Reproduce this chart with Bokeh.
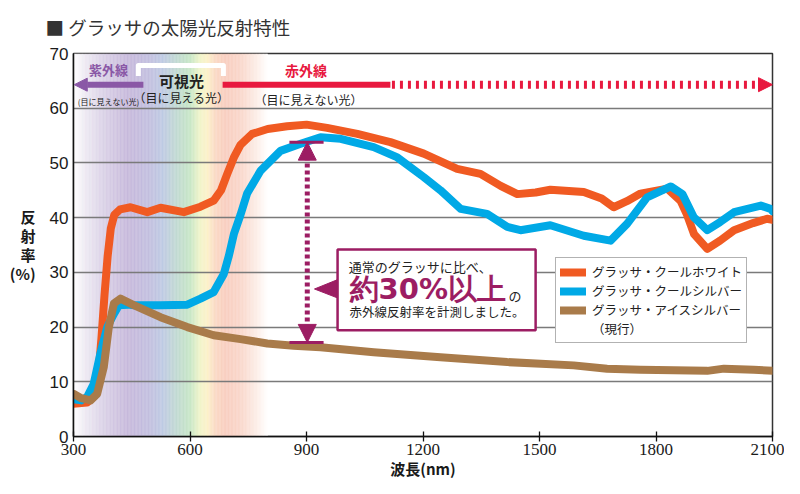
from bokeh.plotting import figure
from bokeh.models import (Label, Arrow, NormalHead, Legend, LegendItem, Range1d,
                          FixedTicker)
from bokeh.embed import file_html
from bokeh.resources import INLINE

# ---------------- data ----------------
wl_white = [300, 335, 355, 365, 372, 380, 388, 396, 405, 420, 447, 490, 524, 584, 627, 661,
            680, 696, 713, 730, 760, 800, 850, 900, 953, 1031, 1116, 1202, 1288, 1348, 1400,
            1443, 1490, 1528, 1614, 1660, 1691, 1725, 1760, 1829, 1863, 1880, 1898, 1932,
            1965, 2001, 2050, 2086, 2100]
cool_white = [6.0, 6.2, 7.5, 12.0, 18.0, 26.0, 33.0, 38.0, 40.5, 41.5, 41.9, 41.0, 41.8, 41.0,
              42.0, 43.1, 45.0, 48.0, 51.0, 53.3, 55.3, 56.2, 56.7, 57.0, 56.4, 55.3, 53.8,
              51.7, 48.9, 48.0, 45.8, 44.3, 44.6, 45.1, 44.7, 43.5, 41.9, 43.0, 44.4, 45.3,
              43.1, 40.5, 37.0, 34.3, 35.8, 37.7, 39.0, 39.8, 39.6]

wl_silver = [300, 320, 335, 352, 369, 387, 404, 417, 440, 455, 524, 593, 627, 661, 687, 700,
             713, 730, 747, 782, 833, 885, 936, 988, 1073, 1134, 1202, 1245, 1297, 1365, 1417,
             1451, 1528, 1614, 1683, 1726, 1777, 1838, 1868, 1897, 1932, 1965, 2001, 2070,
             2095, 2100]
cool_silver = [6.8, 6.6, 7.2, 9.6, 15.1, 20.0, 22.4, 24.0, 24.1, 24.0, 24.0, 24.1, 25.2, 26.4,
               29.7, 33.0, 37.0, 40.5, 44.4, 48.6, 52.2, 53.5, 54.7, 54.4, 52.9, 51.0, 47.4,
               45.0, 41.6, 40.7, 38.3, 37.7, 38.6, 36.7, 35.8, 38.9, 43.7, 45.7, 44.3, 40.1,
               37.7, 39.2, 41.0, 42.2, 41.6, 41.2]

wl_ice = [300, 320, 344, 361, 378, 391, 404, 421, 455, 524, 593, 661, 730, 799, 867, 936, 1073,
          1245, 1417, 1588, 1674, 1760, 1846, 1932, 1975, 2052, 2100]
ice_silver = [7.8, 7.0, 6.6, 7.8, 12.7, 20.0, 24.3, 25.2, 24.0, 21.8, 20.0, 18.5, 17.8, 17.0,
              16.6, 16.3, 15.4, 14.5, 13.6, 13.0, 12.4, 12.2, 12.1, 12.0, 12.4, 12.2, 12.0]

series_names = ["グラッサ・クールホワイト", "グラッサ・クールシルバー", "グラッサ・アイスシルバー"]
legend_extra = "（現行）"
x_ticks = [300, 600, 900, 1200, 1500, 1800, 2100]
y_ticks = [0, 10, 20, 30, 40, 50, 60, 70]

# measured gap (annotation)
gap_x = 902
gap_top = 53.8
gap_bottom = 17.2

# spectrum band colour stops (wavelength, colour)
spec_nm = [300, 330, 380, 440, 490, 530, 570, 600, 625, 645, 665, 690, 730, 770, 800]
spec_col = ["#ffffff", "#ece8f1", "#d6cce4", "#c2b3d8", "#bdb8dc", "#b9c6e0", "#bcd8cc",
            "#c2e4c2", "#eef3c4", "#fcf0c4", "#f9d6c0", "#f8c9b9", "#f9d3c6", "#fcebe4", "#ffffff"]

C_ORANGE = "#f05a22"
C_BLUE = "#00a9e6"
C_BROWN = "#a97b4a"
C_MAG = "#9c1d63"
C_RED = "#e8193f"
C_PURPLE = "#8a58a6"
JP = "Noto Sans CJK JP"

p = figure(frame_width=699, frame_height=383, output_backend="svg", toolbar_location=None,
           x_range=Range1d(300, 2100), y_range=Range1d(0, 70),
           min_border_left=73, min_border_top=53, min_border_right=12, min_border_bottom=40,
           background_fill_color="white", border_fill_color="white")

# title
p.title.text = "■ グラッサの太陽光反射特性"
p.title.text_font = JP
p.title.text_font_style = "normal"
p.title.text_font_size = "18.5px"
p.title.text_color = "#333333"
p.title.align = "left"
p.title.vertical_align = "top"
p.title.offset = -28
p.title.standoff = 23

# ---------- spectrum band ----------
def hex2rgb(h):
    return tuple(int(h[i:i + 2], 16) for i in (1, 3, 5))

lefts, rights, cols = [], [], []
step = 2
w = spec_nm[0]
while w < spec_nm[-1]:
    mid = w + step / 2
    for i in range(len(spec_nm) - 1):
        if spec_nm[i] <= mid <= spec_nm[i + 1]:
            t = (mid - spec_nm[i]) / (spec_nm[i + 1] - spec_nm[i])
            a, b = hex2rgb(spec_col[i]), hex2rgb(spec_col[i + 1])
            c = tuple(round(a[k] + (b[k] - a[k]) * t) for k in range(3))
            break
    lefts.append(w)
    rights.append(w + step + 0.3)
    cols.append("#%02x%02x%02x" % c)
    w += step
band = p.quad(left=lefts, right=rights, bottom=0, top=70, fill_color=cols, line_color=None)
band.level = "image"

# ---------- axes / grid ----------
p.xgrid.visible = False
p.ygrid.grid_line_color = "#7a7a7a"
p.ygrid.grid_line_width = 1.3
p.outline_line_color = "#333333"
p.outline_line_width = 1.5

p.xaxis.ticker = FixedTicker(ticks=x_ticks)
p.yaxis.ticker = FixedTicker(ticks=y_ticks)
p.xaxis.minor_tick_line_color = None
p.yaxis.minor_tick_line_color = None
p.xaxis.major_tick_in = 5
p.xaxis.major_tick_out = 5
p.yaxis.major_tick_in = 0
p.yaxis.major_tick_out = 0
for ax in (p.xaxis, p.yaxis):
    ax.axis_line_color = "#111111"
    ax.axis_line_width = 1.5
    ax.major_tick_line_color = "#111111"
    ax.major_tick_line_width = 1.3
    ax.major_label_text_color = "#1a1a1a"
p.xaxis.major_label_text_font = "Liberation Sans Narrow"
p.xaxis.major_label_text_font_size = "17px"
p.xaxis.major_label_standoff = 2
p.yaxis.major_label_text_font = "Liberation Sans"
p.yaxis.major_label_text_font_size = "17px"
p.yaxis.major_label_standoff = 5
p.xaxis.axis_label = "波長(nm)"
p.xaxis.axis_label_text_font = JP
p.xaxis.axis_label_text_font_style = "bold"
p.xaxis.axis_label_text_font_size = "15px"
p.xaxis.axis_label_text_color = "#1a1a1a"
p.xaxis.axis_label_standoff = 0

p.yaxis.axis_label = "反\n射\n率\n(%)"
p.yaxis.axis_label_text_font = JP
p.yaxis.axis_label_text_font_style = "bold"
p.yaxis.axis_label_text_font_size = "15px"
p.yaxis.axis_label_text_color = "#1a1a1a"
p.yaxis.axis_label_text_line_height = 0.92
p.yaxis.axis_label_standoff = 11
yax = p.yaxis[0]
if "axis_label_orientation" in yax.properties():
    yax.axis_label_orientation = "horizontal"

# ---------- series ----------
r_white = p.line(wl_white, cool_white, line_color=C_ORANGE, line_width=8,
                 line_join="round", line_cap="round")
r_silver = p.line(wl_silver, cool_silver, line_color=C_BLUE, line_width=8,
                  line_join="round", line_cap="round")
r_ice = p.line(wl_ice, ice_silver, line_color=C_BROWN, line_width=8,
               line_join="round", line_cap="round")
r_dummy = p.line([], [], line_alpha=0)

# ---------- top region labels/arrows ----------
p.add_layout(Arrow(end=NormalHead(size=13, fill_color=C_PURPLE, line_color=C_PURPLE),
                   x_start=480, y_start=64.3, x_end=302, y_end=64.3,
                   line_color=C_PURPLE, line_width=6))
p.add_layout(Label(x=390, y=67.1, text="紫外線", text_font=JP, text_font_style="bold",
                   text_font_size="13px", text_color=C_PURPLE, text_align="center",
                   text_baseline="middle"))
p.add_layout(Label(x=390, y=61.3, text="(目に見えない光)", text_font=JP,
                   text_font_size="8px", text_color="#222222", text_align="center",
                   text_baseline="middle"))
# visible light bracket
p.line([467, 467, 686, 686], [65.9, 67.8, 67.8, 65.9], line_color="white", line_width=5,
       line_join="round")
p.add_layout(Label(x=578, y=65.1, text="可視光", text_font=JP, text_font_style="bold",
                   text_font_size="15px", text_color="#222222", text_align="center",
                   text_baseline="middle"))
p.add_layout(Label(x=578, y=62.0, text="（目に見える光）", text_font=JP,
                   text_font_size="12px", text_color="#222222", text_align="center",
                   text_baseline="middle"))
# infrared
p.line([684, 1116], [64.3, 64.3], line_color=C_RED, line_width=6)
p.add_layout(Arrow(end=NormalHead(size=14, fill_color=C_RED, line_color=C_RED),
                   x_start=1120, y_start=64.3, x_end=2100, y_end=64.3,
                   line_color=C_RED, line_width=8, line_dash="3 5"))
p.add_layout(Label(x=899, y=66.9, text="赤外線", text_font=JP, text_font_style="bold",
                   text_font_size="14px", text_color=C_RED, text_align="center",
                   text_baseline="middle"))
p.add_layout(Label(x=905, y=61.6, text="（目に見えない光）", text_font=JP,
                   text_font_size="12px", text_color="#222222", text_align="center",
                   text_baseline="middle"))

# ---------- gap annotation ----------
p.segment(x0=[856, 856], x1=[944, 944], y0=[gap_top, gap_bottom], y1=[gap_top, gap_bottom],
          line_color=C_MAG, line_width=3)
p.add_layout(Arrow(start=NormalHead(size=18, fill_color=C_MAG, line_color=C_MAG),
                   end=NormalHead(size=18, fill_color=C_MAG, line_color=C_MAG),
                   x_start=gap_x, y_start=gap_bottom, x_end=gap_x, y_end=gap_top,
                   line_color=C_MAG, line_width=5, line_dash="4 3"))
p.patch([979, 920.6, 979], [28.64, 26.96, 25.35], fill_color=C_MAG, line_color=C_MAG)
p.quad(left=980, right=1490, bottom=19.4, top=34.2, fill_color="white",
       line_color=C_MAG, line_width=2.5)
p.add_layout(Label(x=1009, y=31.1, text="通常のグラッサに比べ、", text_font=JP,
                   text_font_size="13px", text_color="#222222", text_baseline="middle"))
p.add_layout(Label(x=1011, y=26.9, text="約30%以上", text_font="DejaVu Sans",
                   text_font_style="bold", text_font_size="29px", text_color=C_MAG,
                   text_baseline="middle"))
p.add_layout(Label(x=1420, y=25.8, text="の", text_font=JP,
                   text_font_size="13px", text_color="#222222", text_baseline="middle"))
p.add_layout(Label(x=1011, y=22.8, text="赤外線反射率を計測しました。", text_font=JP,
                   text_font_size="12.5px", text_color="#222222", text_baseline="middle"))

# ---------- legend ----------
legend = Legend(items=[LegendItem(label=series_names[0], renderers=[r_white]),
                       LegendItem(label=series_names[1], renderers=[r_silver]),
                       LegendItem(label=series_names[2], renderers=[r_ice]),
                       LegendItem(label=legend_extra, renderers=[r_dummy])],
                location=(482, 93), label_text_font=JP, label_text_font_size="12.5px",
                label_text_color="#222222", glyph_width=26, glyph_height=14,
                label_height=14, spacing=0, padding=4, margin=0, label_standoff=6,
                border_line_color="#666666", border_line_width=1,
                background_fill_color="white", background_fill_alpha=1)
p.add_layout(legend)

open("out.html", "w").write(file_html(p, INLINE))
